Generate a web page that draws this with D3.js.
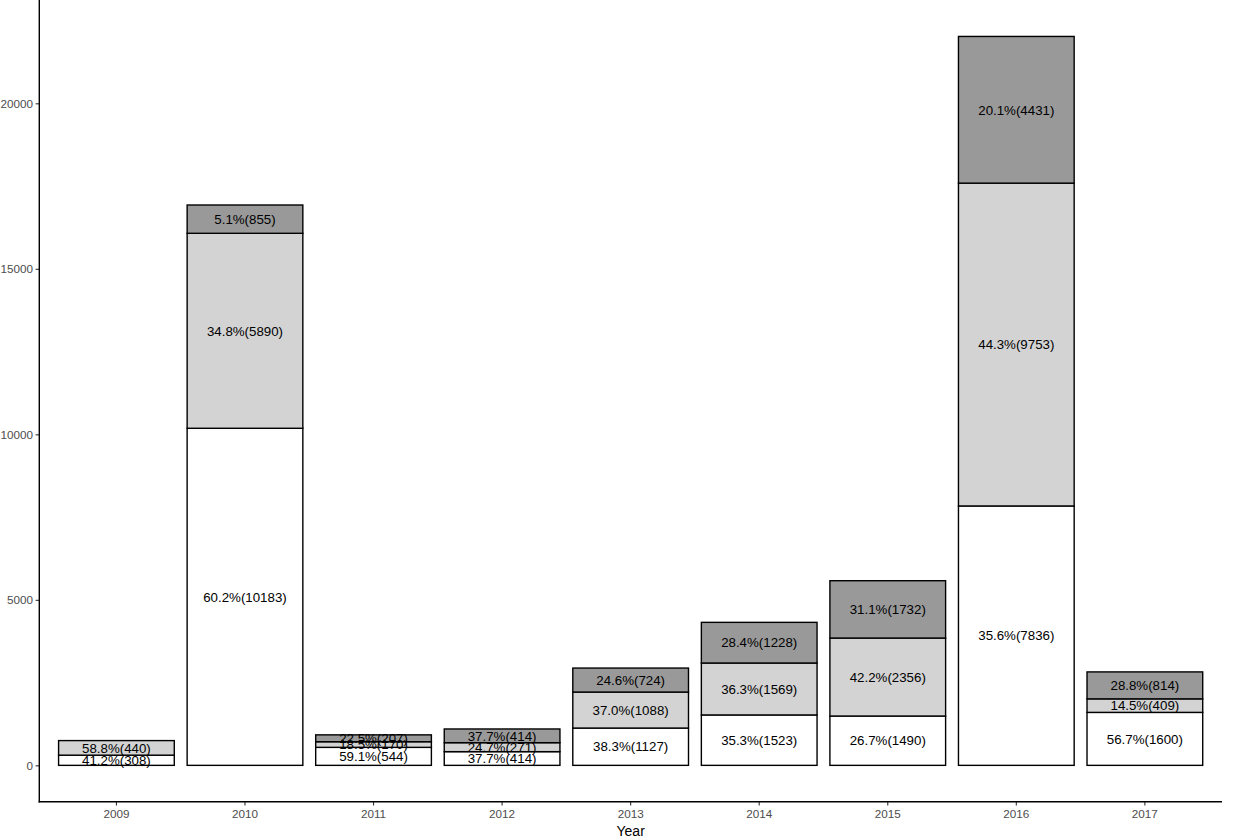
<!DOCTYPE html>
<html>
<head>
<meta charset="utf-8">
<script src="https://cdn.jsdelivr.net/npm/d3@7"></script>
<style>
  body { margin: 0; background: #fff; }
  svg { display: block; }
</style>
</head>
<body>
<svg id="chart" width="1235" height="840"></svg>
<script>
const years = ["2009","2010","2011","2012","2013","2014","2015","2016","2017"];
const groupKeys = ["g1","g2","g3"];
const g1Values = [308, 10183, 544, 414, 1127, 1523, 1490, 7836, 1600];
const g2Values = [440, 5890, 170, 271, 1088, 1569, 2356, 9753, 409];
const g3Values = [0, 855, 207, 414, 724, 1228, 1732, 4431, 814];
const g1Pct = ["41.2%","60.2%","59.1%","37.7%","38.3%","35.3%","26.7%","35.6%","56.7%"];
const g2Pct = ["58.8%","34.8%","18.5%","24.7%","37.0%","36.3%","42.2%","44.3%","14.5%"];
const g3Pct = ["","5.1%","22.5%","37.7%","24.6%","28.4%","31.1%","20.1%","28.8%"];
const yTicks = [0, 5000, 10000, 15000, 20000];
const fills = {g1: "#ffffff", g2: "#d3d3d3", g3: "#999999"};

const rows = years.map((y, i) => ({year: y, g1: g1Values[i], g2: g2Values[i], g3: g3Values[i]}));
const pcts = {g1: g1Pct, g2: g2Pct, g3: g3Pct};

const svg = d3.select("#chart");
const pLeft = 39.3, pRight = 1222, pTop = 0, pBottom = 801.8;
const FONT = "Liberation Sans, Arial, sans-serif";

const x = d3.scaleBand().domain(years).range([pLeft, pRight]).paddingInner(0.1).paddingOuter(0.15).align(0.5);
const xc = d => x(d) + x.bandwidth() / 2;
const bw = x.bandwidth();

const maxTotal = d3.max(rows, r => r.g1 + r.g2 + r.g3);
const ext = maxTotal * 0.05;
const y = d3.scaleLinear().domain([-ext, maxTotal + ext]).range([pBottom, pTop]);

const series = d3.stack().keys(groupKeys)(rows);

const gBars = svg.append("g");
series.forEach(s => {
  const key = s.key;
  s.forEach((d, i) => {
    if (d[1] - d[0] <= 0) return;
    gBars.append("rect")
      .attr("x", x(years[i]))
      .attr("width", bw)
      .attr("y", y(d[1]))
      .attr("height", y(d[0]) - y(d[1]))
      .attr("fill", fills[key])
      .attr("stroke", "#000")
      .attr("stroke-width", 1.4);
  });
});

const gText = svg.append("g");
series.forEach(s => {
  const key = s.key;
  s.forEach((d, i) => {
    const v = d[1] - d[0];
    if (v <= 0) return;
    gText.append("text")
      .attr("x", xc(years[i]))
      .attr("y", y((d[0] + d[1]) / 2))
      .attr("dy", "0.36em")
      .attr("text-anchor", "middle")
      .attr("font-family", FONT)
      .attr("font-size", 13.3)
      .attr("fill", "#000")
      .text(pcts[key][i] + "(" + v + ")");
  });
});

// Y axis
const yAxis = d3.axisLeft(y).tickValues(yTicks).tickSize(3.7).tickPadding(2.5).tickFormat(d3.format("d"));
const gy = svg.append("g").attr("transform", `translate(${pLeft},0)`).call(yAxis);
gy.select(".domain").remove();
gy.selectAll(".tick line").attr("stroke", "#333").attr("stroke-width", 1.1);
gy.selectAll(".tick text").attr("fill", "#4d4d4d").attr("font-size", 11.7).attr("font-family", FONT);
svg.append("line").attr("x1", pLeft).attr("x2", pLeft).attr("y1", pTop).attr("y2", pBottom + 0.7)
  .attr("stroke", "#000").attr("stroke-width", 1.4);

// X axis
const xAxis = d3.axisBottom(x).tickSize(3.7).tickPadding(4);
const gx = svg.append("g").attr("transform", `translate(0,${pBottom})`).call(xAxis);
gx.select(".domain").remove();
gx.selectAll(".tick line").attr("stroke", "#333").attr("stroke-width", 1.1);
gx.selectAll(".tick text").attr("fill", "#4d4d4d").attr("font-size", 11.7).attr("font-family", FONT);
svg.append("line").attr("x1", pLeft - 0.7).attr("x2", pRight).attr("y1", pBottom).attr("y2", pBottom)
  .attr("stroke", "#000").attr("stroke-width", 1.4);

svg.append("text").attr("x", (pLeft + pRight) / 2).attr("y", 831).attr("dy", "0.36em")
  .attr("text-anchor", "middle").attr("font-size", 14).attr("fill", "#000")
  .attr("font-family", FONT).text("Year");
</script>
</body>
</html>
